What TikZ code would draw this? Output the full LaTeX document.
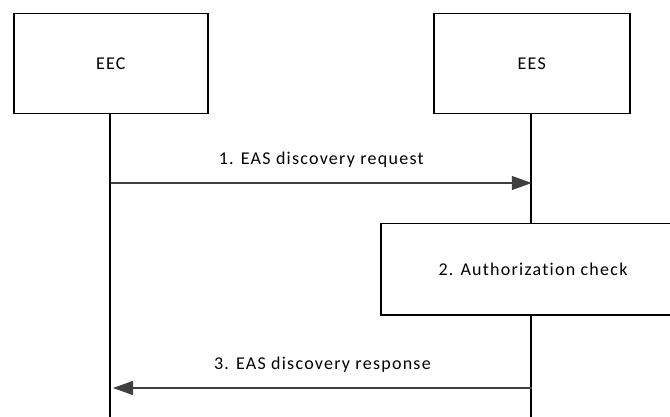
\documentclass[tikz,border=0pt]{standalone}
\usepackage{fontspec}
\setmainfont{Carlito}
\newfontfamily\lblfont[LetterSpace=7,Ligatures={NoCommon}]{Carlito}
\usetikzlibrary{arrows.meta}
\begin{document}
\begin{tikzpicture}[x=1pt,y=-1pt,
  box/.style={draw=black,line width=1.5pt,fill=white},
  life/.style={draw=black,line width=1.5pt},
  msg/.style={draw=black!75,line width=1.2pt,-{Triangle[length=20pt,width=14pt]}},
  lbl/.style={font=\lblfont\fontsize{18}{20}\selectfont}]
\useasboundingbox (0,0) rectangle (670,417);
\coordinate (eecbot) at (110,417);
\coordinate (eesbot) at (531,417);
\draw[life] (110,113) -- (eecbot);
\draw[life] (531,113) -- (eesbot);
\node[box,minimum width=194pt,minimum height=100pt,anchor=north west,inner sep=0pt,lbl] (eec) at (13,13) {EEC};
\node[box,minimum width=196pt,minimum height=100pt,anchor=north west,inner sep=0pt,lbl] (ees) at (433,13) {EES};
\begin{scope}
\clip (0,0) rectangle (670,417);
\node[box,minimum width=302pt,minimum height=91pt,anchor=north west,inner sep=0pt] (auth) at (380,223) {};
\end{scope}
\node[lbl] (authtxt) at (533,269) {2. Authorization check};
\coordinate (m1s) at (eec.south |- 0,183);
\coordinate (m1e) at (ees.south |- 0,183);
\draw[msg] (m1s) -- (m1e) node[midway,above=12pt,lbl] (l1) {1. EAS discovery request};
\coordinate (m3s) at (ees.south |- 0,388);
\coordinate (m3e) at (113,388);
\draw[msg] (m3s) -- (m3e) node[midway,above=12pt,lbl] (l3) {3. EAS discovery response};
\end{tikzpicture}
\end{document}
